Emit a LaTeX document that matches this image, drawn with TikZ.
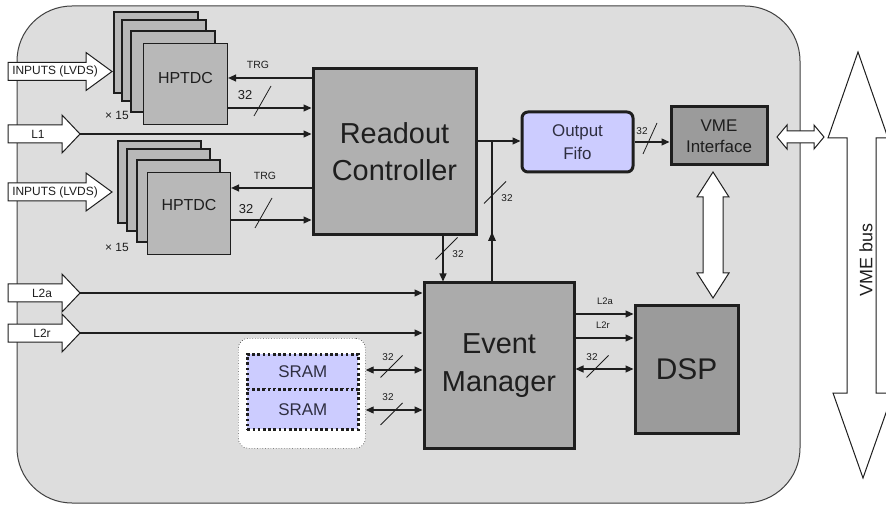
\documentclass[tikz,border=0pt]{standalone}
\usepackage{fontspec}
\setmainfont{Liberation Sans}
\usetikzlibrary{arrows.meta,calc}
\definecolor{board}{HTML}{DDDDDD}
\definecolor{tdcfill}{HTML}{B8B8B8}
\definecolor{rcfill}{HTML}{B0B0B0}
\definecolor{emfill}{HTML}{ABABAB}
\definecolor{darkfill}{HTML}{9B9B9B}
\definecolor{lav}{HTML}{CCCCFF}
\definecolor{ink}{HTML}{1E1E1E}
\definecolor{lavtext}{HTML}{2E2E40}
\newcommand\inarrow[6]{% name, y centre, tip x, head length, text x, text
  \draw[blockarrow] (8,#2-9) -- (#3-#4,#2-9) -- (#3-#4,#2-19) -- (#3,#2) -- (#3-#4,#2+19) -- (#3-#4,#2+9) -- (8,#2+9) -- cycle;
  \coordinate (#1) at (#3,#2);
  \node[arrtext] (#1t) at (#5,#2) {#6};
}
\begin{document}
\begin{tikzpicture}[x=1bp,y=-1bp,
  conn/.style={draw=ink, line width=1.2bp},
  arr/.style={-{Triangle[length=8bp,width=7bp]}},
  darr/.style={{Triangle[length=8bp,width=7bp]}-{Triangle[length=8bp,width=7bp]}},
  tdcline/.style={draw=ink, line width=1.1bp, fill=tdcfill},
  tdc/.style={tdcline, rectangle, inner sep=0pt, anchor=north west},
  blk/.style={draw=ink, line width=3bp, rectangle, inner sep=0pt, align=center, text=ink},
  blockarrow/.style={draw=ink, line width=1bp, fill=white},
  arrtext/.style={font=\fontsize{12}{14}\selectfont, text=ink, inner sep=0pt},
  lbl/.style={font=\fontsize{10}{12}\selectfont, text=ink, inner sep=0pt},
  sram/.style={draw=ink, line width=2.6bp, dash pattern=on 2.6bp off 2.6bp, fill=lav, rectangle, inner sep=0pt, anchor=north west, text=lavtext, font=\fontsize{17}{20}\selectfont, minimum width=111bp},
  busmark/.pic={\draw[draw=ink, line width=0.8bp] (-11,11) -- (11,-11);},
  busmarksteep/.pic={\draw[draw=ink, line width=0.8bp] (-8.5,15) -- (8.5,-15);},
]
\useasboundingbox (0,0) rectangle (886,514);
\fill[white] (0,0) rectangle (886,514);
% board
\draw[draw=ink!85, line width=1bp, fill=board, rounded corners=55bp] (17,6) rectangle (800,503);

% HPTDC stack 1
\foreach \px/\py in {114/12,122/20,131/31} \draw[tdcline] (\px,\py) rectangle ++(84,81);
\node[tdc, minimum width=84bp, minimum height=81bp] (tdcA) at (143,43) {};
\node[font=\fontsize{16}{19}\selectfont, text=ink, inner sep=0pt] (tdcAt) at ([yshift=6bp]tdcA.center) {HPTDC};
\node[arrtext] (xA) at (117,115.5) {× 15};

% HPTDC stack 2
\foreach \px/\py in {118/141,127/149,137/160} \draw[tdcline] (\px,\py) rectangle ++(83,82);
\node[tdc, minimum width=83bp, minimum height=82bp] (tdcB) at (147,172) {};
\node[font=\fontsize{16}{19}\selectfont, text=ink, inner sep=0pt] (tdcBt) at ([yshift=9bp]tdcB.center) {HPTDC};
\node[arrtext] (xB) at (117,247.5) {× 15};

% input block arrows
\inarrow{inA}{71.5}{112}{26}{55}{INPUTS (LVDS)}
\inarrow{lone}{134}{80}{18}{38}{L1}
\inarrow{inB}{192}{112}{26}{55}{INPUTS (LVDS)}
\inarrow{ltwoa}{293}{80}{18}{42}{L2a}
\inarrow{ltwor}{333}{80}{18}{42}{L2r}

% main blocks
\node[blk, fill=rcfill, minimum width=163bp, minimum height=166bp, font=\fontsize{29}{37}\selectfont] (rc) at (394.5,152) {Readout\\Controller};
\node[blk, fill=emfill, minimum width=150bp, minimum height=165bp, font=\fontsize{29}{38}\selectfont] (em) at (499,365.5) {Event\\Manager};
\node[blk, fill=darkfill, minimum width=103bp, minimum height=127bp, font=\fontsize{30}{36}\selectfont] (dsp) at (686.5,369.5) {DSP};
\node[blk, fill=darkfill, minimum width=96bp, minimum height=58bp, font=\fontsize{17}{21}\selectfont] (vme) at (719,136) {VME\\Interface};
\node[blk, fill=lav, rounded corners=6bp, minimum width=111bp, minimum height=60bp, text=lavtext, font=\fontsize{17}{23}\selectfont] (fifo) at (577.5,142) {Output\\Fifo};

% SRAM group
\node[draw=ink!80, line width=0.7bp, dotted, fill=white, rounded corners=10bp, minimum width=127bp, minimum height=110bp, inner sep=0pt, anchor=north west] (sgrp) at (238,338) {};
\node[sram, minimum height=35bp] (sr1) at (246,353) {SRAM};
\node[sram, minimum height=40bp] (sr2) at (246,388) {SRAM};

% coordinates for horizontal levels
\coordinate (yTa) at (0,78);
\coordinate (yDa) at (0,108);
\coordinate (yTb) at (0,188);
\coordinate (yDb) at (0,220);
\coordinate (yF) at (0,141);
\coordinate (yS1) at (0,370);
\coordinate (yS2) at (0,410);
\coordinate (yEa) at (0,314);
\coordinate (yEr) at (0,338);
\coordinate (yEd) at (0,369);
\coordinate (xDown) at (443,0);
\coordinate (br) at (492,141);
\coordinate (brmid) at (492,232);

% HPTDC <-> readout controller
\draw[conn,arr] (rc.west |- yTa) -- (tdcA.east |- yTa);
\draw[conn,arr] (tdcA.east |- yDa) -- (rc.west |- yDa);
\draw[conn,arr] (lone) -- (rc.west |- lone);
\draw[conn,arr] (rc.west |- yTb) -- (tdcB.east |- yTb);
\draw[conn,arr] (tdcB.east |- yDb) -- (rc.west |- yDb);
\node[lbl, font=\fontsize{10.5}{12}\selectfont] (trgA) at (258,65) {TRG};
\node[lbl, font=\fontsize{10.5}{12}\selectfont] (trgB) at (265,176) {TRG};
\node[lbl, font=\fontsize{13}{15}\selectfont] (nA) at (245,95) {32};
\node[lbl, font=\fontsize{13}{15}\selectfont] (nB) at (246,209) {32};
\pic at (262.5,101) {busmarksteep};
\pic at (263.5,213) {busmarksteep};

% L2 lines
\draw[conn,arr] (ltwoa) -- (em.west |- ltwoa);
\draw[conn,arr] (ltwor) -- (em.west |- ltwor);

% readout controller -> fifo, branch from event manager
\draw[conn,arr] (rc.east |- yF) -- (fifo.west |- yF);
\draw[conn] (em.north -| br) -- (br);
\fill[ink] (brmid) -- ++(-4,9) -- ++(8,0) -- cycle;
\pic at (495,192.5) {busmark};
\node[lbl] (nBr) at (507,198) {32};

% readout controller -> event manager
\draw[conn,arr] (rc.south -| xDown) -- (em.north -| xDown);
\pic at (446.5,248.5) {busmark};
\node[lbl] (nDn) at (458,254) {32};

% fifo -> VME interface
\draw[conn,arr] (fifo.east) -- (vme.west |- fifo.east);
\draw[draw=ink, line width=0.8bp] (643,154) -- (657,123);
\node[lbl] (nV) at (642,131) {32};

% SRAM <-> event manager
\draw[conn,darr] (sgrp.east |- yS1) -- (em.west |- yS1);
\draw[conn,darr] (sgrp.east |- yS2) -- (em.west |- yS2);
\pic at (391.5,366.5) {busmark};
\pic at (391.5,414) {busmark};
\node[lbl] (nS1) at (388,357) {32};
\node[lbl] (nS2) at (388,397) {32};

% event manager -> DSP
\draw[conn,arr] (em.east |- yEa) -- (dsp.west |- yEa);
\draw[conn,arr] (em.east |- yEr) -- (dsp.west |- yEr);
\draw[conn,darr] (em.east |- yEd) -- (dsp.west |- yEd);
\node[lbl, font=\fontsize{9.5}{11}\selectfont] (tEa) at (605,301) {L2a};
\node[lbl, font=\fontsize{9.5}{11}\selectfont] (tEr) at (603,325) {L2r};
\pic at (597.5,366.5) {busmark};
\node[lbl] (nD) at (592,357) {32};

% double block arrows
\draw[blockarrow] (777,137) -- (787,125) -- (787,131) -- (814,131) -- (814,125) -- (824,137) -- (814,149) -- (814,143) -- (787,143) -- (787,149) -- cycle;
\draw[blockarrow] (713,172) -- (729,197) -- (723,197) -- (723,273) -- (729,273) -- (713,298) -- (697,273) -- (703,273) -- (703,197) -- (697,197) -- cycle;

% VME bus
\draw[blockarrow] (858,52) -- (888,138) -- (876,138) -- (876,393) -- (893,393) -- (863,478) -- (833,393) -- (847,393) -- (847,138) -- (828,138) -- cycle;
\node[rotate=90, font=\fontsize{18}{21}\selectfont, text=ink, inner sep=0pt] (bus) at (866,260) {VME bus};
\end{tikzpicture}
\end{document}
